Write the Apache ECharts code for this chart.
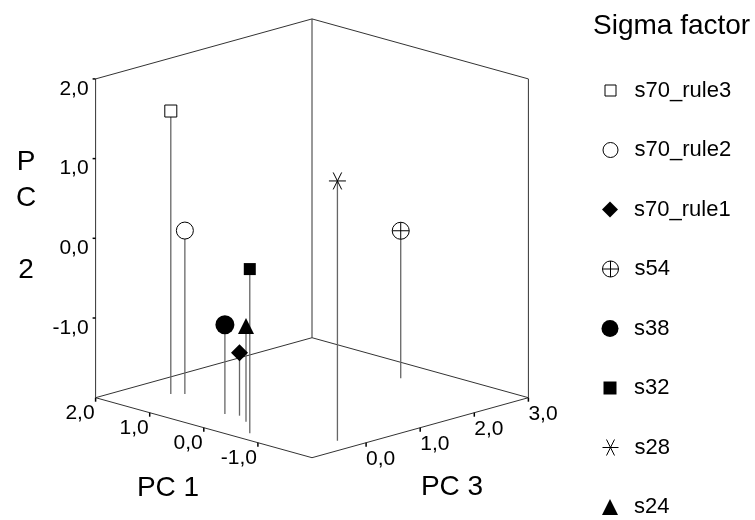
<!DOCTYPE html>
<html>
<head>
<meta charset="utf-8">
<script src="https://cdn.jsdelivr.net/npm/echarts@6/dist/echarts.min.js"></script>
<style>html,body{margin:0;padding:0;background:#fff}#chart{width:755px;height:520px}</style>
</head>
<body>
<div id="chart"></div>
<script>
// ---- data ----
const groupNames = ['s70_rule3', 's70_rule2', 's70_rule1', 's54', 's38', 's32', 's28', 's24'];
const pc1 = [1.43, 1.30, 0.07, -0.17, 0.26, -0.61, -1.67, -0.19];
const pc2 = [1.55, 0.05, -1.21, -0.15, -0.88, 0.06, 1.26, -0.80];
const pc3 = [-0.18, -0.05, -0.27, 2.47, -0.35, -0.76, -0.20, -0.41];
const pc1Range = [-2, 2];
const pc2Range = [-2, 2];
const pc3Range = [-1, 3];
const pc1TickValues = [2, 1, 0, -1];
const pc2TickValues = [-1, 0, 1, 2];
const pc3TickValues = [0, 1, 2, 3];
const axisTitles = ['PC 1', 'PC 2', 'PC 3'];
const legendTitle = 'Sigma factor';

// ---- styles ----
const FONT = '"Liberation Sans", Arial, Helvetica, sans-serif';
const markerStyles = [
  { symbol: 'rect', size: 12, color: '#fff', border: 1, legendSize: 11 },
  { symbol: 'circle', size: 17, color: '#fff', border: 1, legendSize: 15 },
  { symbol: 'diamond', size: 17, color: '#000', border: 0, legendSize: 16 },
  { symbol: 'path://M0,-1A1,1 0 1,1 0,1A1,1 0 1,1 0,-1ZM-1,0L1,0M0,-1L0,1', size: 17, color: '#fff', border: 1, legendSize: 16 },
  { symbol: 'circle', size: 19, color: '#000', border: 0, legendSize: 17 },
  { symbol: 'rect', size: 12, color: '#000', border: 0, legendSize: 13 },
  { symbol: 'path://M-1,0L1,0M-0.5,-1L0.5,1M-0.5,1L0.5,-1', size: 17, color: '#fff', border: 1, legendSize: 16 },
  { symbol: 'triangle', size: 16, color: '#000', border: 0, legendSize: 16 }
];
// oblique view: vertical rise (in PC2 units) per unit along the floor axes
const K = 15.0 / 79.7;

// ---- projection (3D -> 2D view coordinates, mapped by the hidden axes) ----
function proj(p1, p2, p3) {
  const a = p1 - pc1Range[0];
  const b = p3 - pc3Range[0];
  return [b - a, p2 + K * (a + b)];
}
const fmt = v => v.toFixed(1).replace('.', ',');

// box edges
const L = [pc1Range[1], pc3Range[0]], B = [pc1Range[1], pc3Range[1]],
      R = [pc1Range[0], pc3Range[1]], F = [pc1Range[0], pc3Range[0]];
function edge(c1, h1, c2, h2) { return proj(c1[0], h1, c1[1]).concat(proj(c2[0], h2, c2[1])); }
const lo = pc2Range[0], hi = pc2Range[1];
const boxEdges = [
  edge(L, lo, B, lo), edge(B, lo, R, lo), edge(L, lo, F, lo), edge(F, lo, R, lo),
  edge(L, lo, L, hi), edge(B, lo, B, hi), edge(R, lo, R, hi),
  edge(L, hi, B, hi), edge(B, hi, R, hi)
];

function segmentRender(color, width) {
  return function (params, api) {
    const p = api.coord([api.value(0), api.value(1)]);
    const q = api.coord([api.value(2), api.value(3)]);
    return { type: 'line', shape: { x1: p[0], y1: p[1], x2: q[0], y2: q[1] },
             style: { stroke: color, lineWidth: width } };
  };
}

function tickSeries(values, pointFn, mark, lab, align) {
  return {
    type: 'custom', coordinateSystem: 'cartesian2d', silent: true, z: 3,
    data: values.map(pointFn),
    renderItem(params, api) {
      const c = api.coord([api.value(0), api.value(1)]);
      const t = values[params.dataIndex];
      return { type: 'group', children: [
        { type: 'line', shape: { x1: c[0], y1: c[1], x2: c[0] + mark[0], y2: c[1] + mark[1] },
          style: { stroke: '#000', lineWidth: 1.5 } },
        { type: 'text', style: { text: fmt(t), x: c[0] + lab[0], y: c[1] + lab[1], align: align,
          verticalAlign: 'middle', fill: '#000', fontSize: 21, fontFamily: FONT } }
      ] };
    }
  };
}

const series = [];
series.push({ type: 'custom', coordinateSystem: 'cartesian2d', silent: true, z: 1,
  data: boxEdges, encode: { x: [0, 2], y: [1, 3] }, renderItem: segmentRender('#333', 1) });
series.push({ type: 'custom', coordinateSystem: 'cartesian2d', silent: true, z: 2,
  data: groupNames.map((n, i) => proj(pc1[i], lo, pc3[i]).concat(proj(pc1[i], pc2[i], pc3[i]))),
  encode: { x: [0, 2], y: [1, 3] }, renderItem: segmentRender('#666', 1.3) });
series.push(tickSeries(pc2TickValues, t => proj(pc1Range[1], t, pc3Range[0]), [-3, 0], [-7, 10], 'right'));
series.push(tickSeries(pc1TickValues, t => proj(t, lo, pc3Range[0]), [0, 4], [-1, 16], 'right'));
series.push(tickSeries(pc3TickValues, t => proj(pc1Range[0], lo, t), [0, 4], [0, 17], 'left'));

groupNames.forEach((n, i) => {
  const m = markerStyles[i];
  series.push({
    type: 'scatter', name: n, silent: true, z: 5,
    data: [proj(pc1[i], pc2[i], pc3[i])],
    symbol: m.symbol, symbolSize: m.size,
    itemStyle: { color: m.color, borderColor: '#000', borderWidth: m.border, opacity: 1 },
    emphasis: { disabled: true }
  });
});

const legendStep = 59.5, legendY0 = 90.5;
const legends = groupNames.map((n, i) => {
  const s = markerStyles[i].legendSize;
  return {
    data: [n], orient: 'vertical', selectedMode: false, padding: 0,
    left: 610 - s / 2, top: legendY0 + i * legendStep - 11,
    itemWidth: s, itemHeight: s,
    itemStyle: { borderWidth: markerStyles[i].border, borderColor: '#000' },
    textStyle: { fontSize: 22, lineHeight: 22, fontFamily: FONT, color: '#000',
                 padding: [0, 0, 0, 19 - s / 2] }
  };
});

const chart = echarts.init(document.getElementById('chart'), null, { renderer: 'canvas' });
chart.setOption({
  animation: false,
  backgroundColor: '#fff',
  title: { text: legendTitle, left: 593, top: 12, padding: 0,
           textStyle: { fontSize: 28, lineHeight: 28, fontWeight: 'normal', color: '#000', fontFamily: FONT } },
  legend: legends,
  grid: { left: 95.6, right: 226.6, top: 11.4, bottom: 62.3 },
  xAxis: { type: 'value', min: -4, max: 4, show: false },
  yAxis: { type: 'value', min: -2, max: 3.6, show: false },
  graphic: [
    { type: 'text', x: 168, y: 488, style: { text: axisTitles[0], align: 'center', verticalAlign: 'middle',
      fontSize: 28, fontFamily: FONT, fill: '#000' } },
    { type: 'text', x: 26, y: 216, style: { text: axisTitles[1].split('').join('\n'), align: 'center', verticalAlign: 'middle',
      fontSize: 28, lineHeight: 36, fontFamily: FONT, fill: '#000' } },
    { type: 'text', x: 452, y: 487, style: { text: axisTitles[2], align: 'center', verticalAlign: 'middle',
      fontSize: 28, fontFamily: FONT, fill: '#000' } }
  ],
  series: series
});
</script>
</body>
</html>
